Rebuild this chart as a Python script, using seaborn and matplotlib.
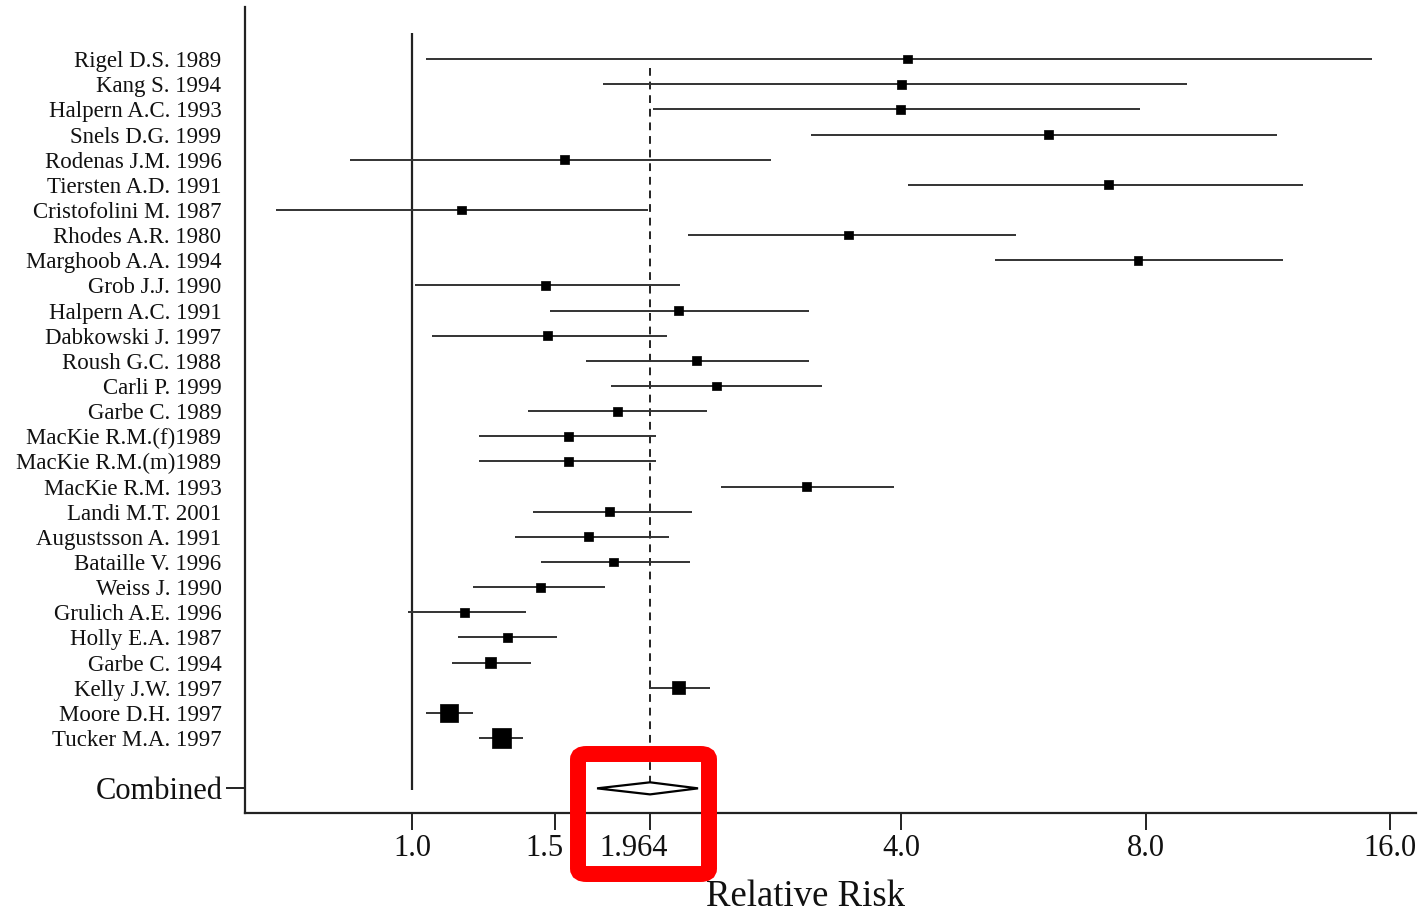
import numpy as np
import pandas as pd
import matplotlib
matplotlib.use("Agg")
import matplotlib.pyplot as plt
import matplotlib.transforms as mtransforms
import seaborn as sns
from matplotlib.patches import FancyBboxPatch
from matplotlib.ticker import NullLocator, FixedLocator, FixedFormatter

# ---------------- data ----------------
studies = ["Rigel D.S. 1989", "Kang S. 1994", "Halpern A.C. 1993", "Snels D.G. 1999",
           "Rodenas J.M. 1996", "Tiersten A.D. 1991", "Cristofolini M. 1987",
           "Rhodes A.R. 1980", "Marghoob A.A. 1994", "Grob J.J. 1990",
           "Halpern A.C. 1991", "Dabkowski J. 1997", "Roush G.C. 1988", "Carli P. 1999",
           "Garbe C. 1989", "MacKie R.M.(f)1989", "MacKie R.M.(m)1989",
           "MacKie R.M. 1993", "Landi M.T. 2001", "Augustsson A. 1991",
           "Bataille V. 1996", "Weiss J. 1990", "Grulich A.E. 1996", "Holly E.A. 1987",
           "Garbe C. 1994", "Kelly J.W. 1997", "Moore D.H. 1997", "Tucker M.A. 1997"]
rr = [4.07, 4.01, 3.99, 6.07, 1.54, 7.21, 1.15, 3.45, 7.83, 1.46, 2.13, 1.47, 2.24, 2.37,
      1.79, 1.56, 1.56, 3.06, 1.75, 1.65, 1.77, 1.44, 1.16, 1.31, 1.25, 2.13, 1.11, 1.29]
lo = [1.04, 1.72, 1.98, 3.10, 0.84, 4.08, 0.68, 2.19, 5.22, 1.01, 1.48, 1.06, 1.64, 1.76,
      1.39, 1.21, 1.21, 2.40, 1.41, 1.34, 1.44, 1.19, 0.99, 1.14, 1.12, 1.96, 1.04, 1.21]
hi = [15.2, 9.0, 7.88, 11.6, 2.77, 12.5, 1.95, 5.54, 11.8, 2.14, 3.08, 2.06, 3.08, 3.20,
      2.31, 2.00, 2.00, 3.92, 2.21, 2.07, 2.20, 1.73, 1.38, 1.51, 1.40, 2.33, 1.19, 1.37]
weight = [1, 1, 1, 1, 1, 1, 1, 1, 1, 1, 1, 1, 1, 1,
          1, 1, 1, 1, 1, 1, 1, 1, 1, 1, 2, 2.5, 5, 6]
combined_label = "Combined"
combined_rr = 1.964
combined_lo = 1.69
combined_hi = 2.25
xtick_values = [1.0, 1.5, 1.964, 4.0, 8.0, 16.0]
xtick_labels = ["1.0", "1.5", "1.964", "4.0", "8.0", "16.0"]
xlabel = "Relative Risk"

df = pd.DataFrame({"study": studies, "rr": rr, "lo": lo, "hi": hi, "weight": weight})
df["row"] = np.arange(len(df))
combined_row = len(df) + 1

# ---------------- style ----------------
sns.set_theme(style="ticks")
plt.rcParams["font.family"] = ["Liberation Serif", "DejaVu Serif"]

fig = plt.figure(figsize=(14.18, 9.14), dpi=100)
ax = fig.add_axes([245 / 1418, 1 - 813 / 914, (1416 - 245) / 1418, (813 - 7) / 914])
ax.set_xscale("log", base=2)

# confidence interval lines
ax.hlines(df["row"], df["lo"], df["hi"], color="#333333", lw=1.4, zorder=2)

# point estimates
sns.scatterplot(data=df, x="rr", y="row", size="weight", sizes=(40, 190),
                size_norm=(1, 6), marker="s", color="black", edgecolor="black",
                linewidth=0.5, legend=False, ax=ax, zorder=3)

# reference lines
ax.vlines(1.0, -1.03, combined_row + 0.07, color="#222222", lw=1.6, zorder=1)
ax.vlines(combined_rr, 0.36, combined_row, color="#222222", lw=1.4,
          linestyles=(0, (4, 3)), zorder=1)

# combined diamond
h = 0.24
ax.fill([combined_lo, combined_rr, combined_hi, combined_rr],
        [combined_row, combined_row - h, combined_row, combined_row + h],
        facecolor="white", edgecolor="black", lw=1.6, zorder=4)

# axes limits
ax.set_xlim(0.623, 17.22)
ax.set_ylim(29.98, -2.07)

# x ticks
ax.xaxis.set_major_locator(FixedLocator(xtick_values))
ax.xaxis.set_major_formatter(FixedFormatter(xtick_labels))
ax.xaxis.set_minor_locator(NullLocator())
ax.tick_params(axis="x", which="major", length=12, width=1.3, labelsize=22, pad=3,
               colors="#111111")

# y ticks
ax.set_yticks(df["row"].tolist())
ax.set_yticklabels(studies)
ax.set_yticks([combined_row], [combined_label], minor=True)
ax.tick_params(axis="y", which="major", length=0, labelsize=16.5, pad=17,
               colors="#111111")
ax.tick_params(axis="y", which="minor", length=14, width=1.3, labelsize=22, pad=2,
               colors="#111111")

ax.set_xlabel(xlabel, fontsize=26.5, color="#111111")
ax.set_ylabel("")
ax.xaxis.set_label_coords((805 - 245) / (1416 - 245), -0.083)

for side in ["top", "right"]:
    ax.spines[side].set_visible(False)
for side in ["left", "bottom"]:
    ax.spines[side].set_linewidth(1.6)
    ax.spines[side].set_color("#222222")

# nudge crowded tick labels left, as in the reference
fig.canvas.draw()
shifts = {"1.5": -11, "1.964": -16}
for lab in ax.get_xticklabels():
    dx = shifts.get(lab.get_text(), 0)
    if dx:
        lab.set_transform(lab.get_transform() +
                          mtransforms.ScaledTranslation(dx / 100, 0, fig.dpi_scale_trans))

# red highlight box (annotation in the reference)
box = FancyBboxPatch((578 / 1418, 1 - 874 / 914), 131 / 1418, 120 / 914,
                     boxstyle="round,pad=0,rounding_size=0.006",
                     transform=fig.transFigure, fill=False, edgecolor="#ff0000",
                     linewidth=11.5, zorder=10, clip_on=False)
fig.add_artist(box)

fig.savefig("out.png", dpi=100)
